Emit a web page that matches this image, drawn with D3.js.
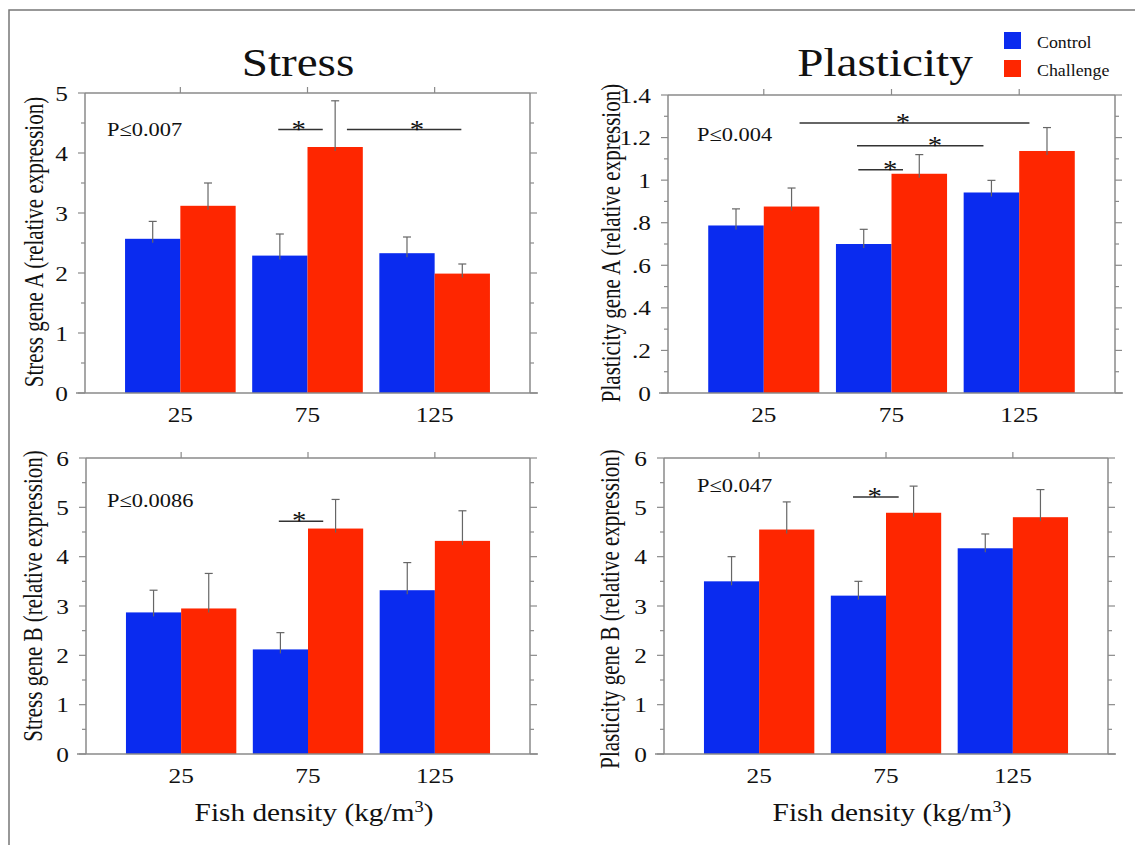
<!DOCTYPE html>
<html><head><meta charset="utf-8">
<script src="https://cdn.jsdelivr.net/npm/d3@7"></script>
<style>body{margin:0;background:#fff} svg{display:block}</style>
</head><body><svg id="c" width="1135" height="845"></svg>
<script>
// ---------------- DATA ----------------
const categories = ["25", "75", "125"];
const seriesNames = ["Control", "Challenge"];

// Stress gene A
const stressA_control = [2.57, 2.29, 2.33];
const stressA_challenge = [3.12, 4.10, 1.99];
const stressA_control_err = [2.86, 2.65, 2.60];
const stressA_challenge_err = [3.50, 4.87, 2.15];
const stressA_ticks = [0, 1, 2, 3, 4, 5];
const stressA_tickLabels = ["0", "1", "2", "3", "4", "5"];
const stressA_sig = [{x1: 0.77, x2: 1.12, y: 4.39, sx: 0.93}, {x1: 1.31, x2: 2.21, y: 4.39, sx: 1.86}];

// Plasticity gene A
const plastA_control = [0.787, 0.700, 0.942];
const plastA_challenge = [0.876, 1.030, 1.137];
const plastA_control_err = [0.865, 0.769, 0.999];
const plastA_challenge_err = [0.963, 1.120, 1.247];
const plastA_ticks = [0, 0.2, 0.4, 0.6, 0.8, 1.0, 1.2, 1.4];
const plastA_tickLabels = ["0", ".2", ".4", ".6", ".8", "1", "1.2", "1.4"];
const plastA_sig = [{x1: 0.28, x2: 2.08, y: 1.269, sx: 1.09}, {x1: 0.73, x2: 1.72, y: 1.161, sx: 1.34}, {x1: 0.74, x2: 1.09, y: 1.049, sx: 0.99}];

// Stress gene B
const stressB_control = [2.87, 2.12, 3.32];
const stressB_challenge = [2.95, 4.57, 4.32];
const stressB_control_err = [3.32, 2.46, 3.88];
const stressB_challenge_err = [3.66, 5.16, 4.93];
const stressB_ticks = [0, 1, 2, 3, 4, 5, 6];
const stressB_tickLabels = ["0", "1", "2", "3", "4", "5", "6"];
const stressB_sig = [{x1: 0.77, x2: 1.12, y: 4.72, sx: 0.93}];

// Plasticity gene B
const plastB_control = [3.50, 3.21, 4.17];
const plastB_challenge = [4.55, 4.89, 4.80];
const plastB_control_err = [4.00, 3.50, 4.46];
const plastB_challenge_err = [5.11, 5.43, 5.36];
const plastB_ticks = [0, 1, 2, 3, 4, 5, 6];
const plastB_tickLabels = ["0", "1", "2", "3", "4", "5", "6"];
const plastB_sig = [{x1: 0.74, x2: 1.10, y: 5.21, sx: 0.91}];

const pValues = ["P≤0.007", "P≤0.004", "P≤0.0086", "P≤0.047"];
const yTitles = ["Stress gene A (relative expression)", "Plasticity gene A (relative expression)",
                 "Stress gene B (relative expression)", "Plasticity gene B (relative expression)"];
const columnTitles = ["Stress", "Plasticity"];
const xTitle = "Fish density (kg/m";

// ---------------- STYLE / LAYOUT ----------------
const COLORS = ["#0a2bef", "#fe2600"];
const FONT = "'Liberation Serif', 'Times New Roman', serif";
const SX = 1.15;
const svg = d3.select("#c");

function txt(g, x, y, s, size, anchor, rot, sx) {
  const t = g.append("text")
    .attr("transform", `translate(${x},${y}) scale(${sx == null ? SX : sx},1)` + (rot ? ` rotate(${rot})` : ""))
    .attr("font-family", FONT).attr("font-size", size)
    .attr("text-anchor", anchor || "start").attr("fill", "#111").text(s);
  return t;
}

// outer border
svg.append("rect").attr("x", 9).attr("y", 10).attr("width", 1140).attr("height", 850)
  .attr("fill", "none").attr("stroke", "#777").attr("stroke-width", 1.5);

const panels = [
  {L: 85, R: 530, T: 93, B: 393, max: 5, ticks: stressA_ticks, labels: stressA_tickLabels, minor: 0.5,
   c: stressA_control, h: stressA_challenge, ce: stressA_control_err, he: stressA_challenge_err, sig: stressA_sig,
   p: pValues[0], pxy: [107, 136], yt: yTitles[0], ytx: 43, yty: 242, bottomRow: false},
  {L: 668, R: 1115, T: 95, B: 393, max: 1.4, ticks: plastA_ticks, labels: plastA_tickLabels, minor: 0.1,
   c: plastA_control, h: plastA_challenge, ce: plastA_control_err, he: plastA_challenge_err, sig: plastA_sig,
   p: pValues[1], pxy: [697, 141], yt: yTitles[1], ytx: 620, yty: 243, bottomRow: false},
  {L: 86, R: 530, T: 458, B: 754, max: 6, ticks: stressB_ticks, labels: stressB_tickLabels, minor: 0.5,
   c: stressB_control, h: stressB_challenge, ce: stressB_control_err, he: stressB_challenge_err, sig: stressB_sig,
   p: pValues[2], pxy: [107, 507], yt: yTitles[2], ytx: 42, yty: 596, bottomRow: true},
  {L: 664, R: 1108, T: 458, B: 754, max: 6, ticks: plastB_ticks, labels: plastB_tickLabels, minor: 0.5,
   c: plastB_control, h: plastB_challenge, ce: plastB_control_err, he: plastB_challenge_err, sig: plastB_sig,
   p: pValues[3], pxy: [697, 492], yt: yTitles[3], ytx: 619, yty: 609, bottomRow: true}
];

const BW = 0.435;
const AX = "#8a8a8a";

panels.forEach(P => {
  const g = svg.append("g");
  const x = d3.scaleLinear().domain([-0.75, 2.75]).range([P.L, P.R]);
  const y = d3.scaleLinear().domain([0, P.max]).range([P.B, P.T]);

  // frame
  g.append("line").attr("x1", P.L).attr("x2", P.R).attr("y1", P.T).attr("y2", P.T).attr("stroke", AX).attr("stroke-width", 1.5);
  g.append("line").attr("x1", P.L).attr("x2", P.L).attr("y1", P.T).attr("y2", P.B).attr("stroke", AX).attr("stroke-width", 1.5);
  g.append("line").attr("x1", P.R).attr("x2", P.R).attr("y1", P.T).attr("y2", P.B).attr("stroke", AX).attr("stroke-width", 1.5);

  // minor + major ticks (left outward, right outward)
  const nMinor = Math.round(P.max / P.minor);
  const minorVals = d3.range(0, nMinor + 1).map(i => +(i * P.minor).toFixed(4));
  minorVals.forEach(v => {
    const major = P.ticks.some(t => Math.abs(t - v) < 1e-6);
    const len = major ? 7 : 4;
    g.append("line").attr("x1", P.L - len).attr("x2", P.L).attr("y1", y(v)).attr("y2", y(v)).attr("stroke", AX).attr("stroke-width", 1.2);
    g.append("line").attr("x1", P.R).attr("x2", P.R + len).attr("y1", y(v)).attr("y2", y(v)).attr("stroke", AX).attr("stroke-width", 1.2);
  });
  // top ticks at categories
  categories.forEach((c, i) => {
    g.append("line").attr("x1", x(i)).attr("x2", x(i)).attr("y1", P.T - 6).attr("y2", P.T).attr("stroke", AX).attr("stroke-width", 1.2);
  });

  // y tick labels
  P.ticks.forEach((t, i) => {
    txt(g, P.L - 17, y(t) + 7.5, P.labels[i], 22, "end");
  });

  // bars
  const rows = categories.map((c, i) => ({i, vals: [P.c[i], P.h[i]], errs: [P.ce[i], P.he[i]]}));
  rows.forEach(r => {
    r.vals.forEach((v, s) => {
      const x0 = s === 0 ? x(r.i - BW) : x(r.i);
      const x1 = s === 0 ? x(r.i) : x(r.i + BW);
      g.append("rect").attr("x", x0).attr("y", y(v)).attr("width", x1 - x0).attr("height", y(0) - y(v)).attr("fill", COLORS[s]);
      const cx = (x0 + x1) / 2;
      g.append("line").attr("x1", cx).attr("x2", cx).attr("y1", y(v) + 4).attr("y2", y(r.errs[s])).attr("stroke", "#666").attr("stroke-width", 1.2);
      g.append("line").attr("x1", cx - 4).attr("x2", cx + 4).attr("y1", y(r.errs[s])).attr("y2", y(r.errs[s])).attr("stroke", "#666").attr("stroke-width", 1.2);
    });
  });

  // bottom axis line
  g.append("line").attr("x1", P.L - 9).attr("x2", P.R + 8).attr("y1", P.B).attr("y2", P.B).attr("stroke", AX).attr("stroke-width", 1.5);

  // x tick labels
  categories.forEach((c, i) => txt(g, x(i), P.B + 29, c, 22, "middle"));

  // significance
  P.sig.forEach(s => {
    g.append("line").attr("x1", x(s.x1)).attr("x2", x(s.x2)).attr("y1", y(s.y)).attr("y2", y(s.y)).attr("stroke", "#333").attr("stroke-width", 1.5);
    txt(g, x(s.sx), y(s.y) + 8, "*", 25, "middle");
  });

  // p value
  txt(g, P.pxy[0], P.pxy[1], P.p, 19.5, "start");

  // y title
  txt(g, P.ytx, P.yty, P.yt, 21, "middle", -90, 1.28);

  // x title
  if (P.bottomRow) {
    const t = txt(g, (P.L + P.R) / 2 + 6, 821, "", 25.5, "middle");
    t.append("tspan").text(xTitle);
    t.append("tspan").attr("font-size", 16).attr("dy", -9).text("3");
    t.append("tspan").attr("dy", 9).text(")");
  }
});

// column titles
txt(svg, 298, 76, columnTitles[0], 41, "middle");
txt(svg, 885, 76, columnTitles[1], 41, "middle");

// legend
const leg = svg.append("g");
seriesNames.forEach((n, i) => {
  leg.append("rect").attr("x", 1004).attr("y", 32 + i * 28).attr("width", 17).attr("height", 17).attr("fill", COLORS[i]);
  txt(leg, 1037, 48 + i * 28, n, 17, "start", null, 1.05);
});
</script></body></html>
